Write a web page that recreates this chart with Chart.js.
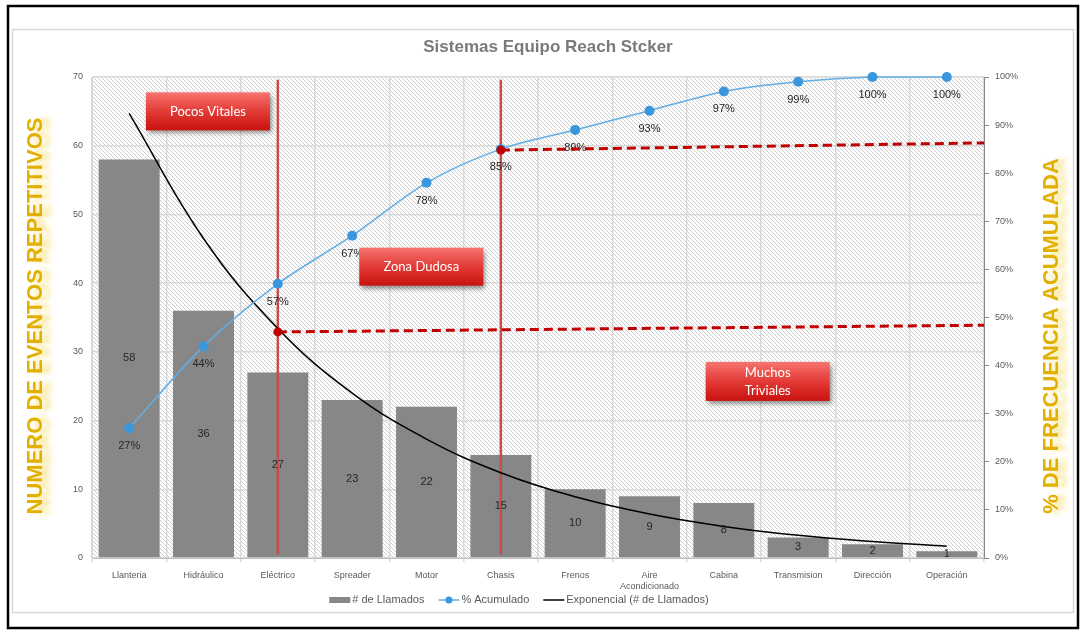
<!DOCTYPE html>
<html lang="es">
<head>
<meta charset="UTF-8">
<title>Sistemas Equipo Reach Stcker</title>
<script src="https://cdn.jsdelivr.net/npm/chart.js"></script>
<style>
    html, body { margin: 0; padding: 0; background: #fff; }
    .chart-container { position: relative; width: 1083px; height: 630px; }
</style>
</head>
<body>
<div class="chart-container">
    <canvas id="paretoChart"></canvas>
</div>
<script>
// datos del pareto
const categorias = ['Llanteria', 'Hidráulico', 'Eléctrico', 'Spreader', 'Motor', 'Chasis', 'Frenos',
    ['Aire', 'Acondicionado'], 'Cabina', 'Transmision', 'Dirección', 'Operación'];
const llamados = [58, 36, 27, 23, 22, 15, 10, 9, 8, 3, 2, 1];
const acumulado = [27, 44, 57, 67, 78, 85, 89, 93, 97, 99, 100, 100];
const tendencia = [64.7, 46.5, 33.4, 24.0, 17.3, 12.4, 8.9, 6.4, 4.6, 3.3, 2.4, 1.7];

// cortes de zona (indice de categoria) y guias horizontales en % acumulado
const cortes = [2, 5];
const guiaInicio = [47, 84.8];
const guiaFin = [48.4, 86.3];

const titulo = 'Sistemas Equipo Reach Stcker';
const tituloIzq = 'NUMERO DE EVENTOS REPETITIVOS';
const tituloDer = '% DE FRECUENCIA ACUMULADA';
const zonas = [['Pocos Vitales'], ['Zona Dudosa'], ['Muchos', 'Triviales']];
const leyenda = ['# de Llamados', '% Acumulado', 'Exponencial (# de Llamados)'];

// ubicacion de los rotulos de zona (indice x, valor eje izq, ancho, alto)
const zonasPos = [
    { x: 1.06, y: 65.0, w: 124, h: 38 },
    { x: 3.93, y: 42.4, w: 124, h: 38 },
    { x: 8.59, y: 25.7, w: 124, h: 39 }
];

const FUENTE = '"Liberation Sans", Arial, sans-serif';

// trama diagonal del fondo
const trama = document.createElement('canvas');
trama.width = 4; trama.height = 4;
(function () {
    const g = trama.getContext('2d');
    g.fillStyle = '#ffffff';
    g.fillRect(0, 0, 4, 4);
    g.fillStyle = '#cecece';
    for (let i = 0; i < 4; i++) g.fillRect(i, i, 1, 1);
})();

function tituloVertical(ctx, texto, x, y) {
    ctx.save();
    ctx.translate(x, y);
    ctx.rotate(-Math.PI / 2);
    ctx.font = 'bold 22px ' + FUENTE;
    ctx.textAlign = 'center';
    ctx.textBaseline = 'middle';
    ctx.shadowColor = 'rgba(245, 210, 60, 0.6)';
    ctx.shadowBlur = 5;
    ctx.shadowOffsetX = 8;
    ctx.shadowOffsetY = 0;
    ctx.fillStyle = '#e2b000';
    ctx.fillText(texto, 0, 0);
    ctx.restore();
}

const fondo = {
    id: 'fondo',
    beforeDraw(chart) {
        const { ctx, chartArea: a } = chart;
        ctx.save();
        ctx.fillStyle = '#ffffff';
        ctx.fillRect(0, 0, chart.width, chart.height);
        ctx.strokeStyle = '#000000';
        ctx.lineWidth = 2.5;
        ctx.strokeRect(8, 6, 1070, 622);
        ctx.strokeStyle = '#d9d9d9';
        ctx.lineWidth = 1.5;
        ctx.strokeRect(12.5, 29.5, 1061, 583);
        ctx.fillStyle = ctx.createPattern(trama, 'repeat');
        ctx.fillRect(a.left, a.top, a.right - a.left, a.bottom - a.top);

        ctx.font = 'bold 17px ' + FUENTE;
        ctx.fillStyle = '#7a7a7a';
        ctx.textAlign = 'center';
        ctx.textBaseline = 'middle';
        ctx.fillText(titulo, 548, 47);
        ctx.restore();

        tituloVertical(ctx, tituloIzq, 36, 316);
        tituloVertical(ctx, tituloDer, 1052, 336);
    }
};

const extras = {
    id: 'extras',
    afterDatasetDraw(chart, args) {
        if (args.index !== 0) return;
        // cortes verticales de zona
        const { ctx } = chart;
        const x = chart.scales.x, y = chart.scales.y;
        ctx.save();
        ctx.strokeStyle = '#c0504d';
        ctx.lineWidth = 2.5;
        cortes.forEach(i => {
            const px = x.getPixelForValue(i);
            ctx.beginPath();
            ctx.moveTo(px, y.getPixelForValue(69.6));
            ctx.lineTo(px, y.getPixelForValue(0.5));
            ctx.stroke();
        });
        ctx.restore();
    },
    afterDatasetsDraw(chart) {
        const { ctx, chartArea: a } = chart;
        const x = chart.scales.x, y1 = chart.scales.y1;
        ctx.save();
        ctx.font = '11px ' + FUENTE;
        ctx.fillStyle = '#262626';
        ctx.textAlign = 'center';
        ctx.textBaseline = 'middle';
        chart.getDatasetMeta(0).data.forEach((bar, i) => {
            ctx.fillText(String(llamados[i]), bar.x, (bar.y + bar.base) / 2);
        });
        chart.getDatasetMeta(2).data.forEach((pt, i) => {
            ctx.fillText(acumulado[i] + '%', pt.x, pt.y + 18);
        });

        // guias horizontales discontinuas
        ctx.strokeStyle = '#c00000';
        ctx.fillStyle = '#c00000';
        ctx.lineWidth = 3;
        cortes.forEach((c, k) => {
            const x0 = x.getPixelForValue(c);
            const yA = y1.getPixelForValue(guiaInicio[k]);
            const yB = y1.getPixelForValue(guiaFin[k]);
            ctx.setLineDash([9, 5]);
            ctx.beginPath();
            ctx.moveTo(x0, yA);
            ctx.lineTo(a.right, yB);
            ctx.stroke();
            ctx.setLineDash([]);
            ctx.beginPath();
            ctx.arc(x0, yA, 4.5, 0, Math.PI * 2);
            ctx.fill();
        });
        ctx.restore();
    },
    afterDraw(chart) {
        const { ctx } = chart;
        const x = chart.scales.x, y = chart.scales.y;
        ctx.save();
        // rotulos de zona
        zonas.forEach((lineas, k) => {
            const p = zonasPos[k];
            const cx = x.getPixelForValue(p.x), cy = y.getPixelForValue(p.y);
            const l = cx - p.w / 2, t = cy - p.h / 2;
            const grad = ctx.createLinearGradient(0, t, 0, t + p.h);
            grad.addColorStop(0, '#f77470');
            grad.addColorStop(0.5, '#e33b36');
            grad.addColorStop(1, '#c8120e');
            ctx.save();
            ctx.shadowColor = 'rgba(0,0,0,0.45)';
            ctx.shadowBlur = 5;
            ctx.shadowOffsetX = 2;
            ctx.shadowOffsetY = 3;
            ctx.fillStyle = grad;
            ctx.fillRect(l, t, p.w, p.h);
            ctx.restore();
            ctx.font = '13px Lato, ' + FUENTE;
            ctx.fillStyle = '#ffffff';
            ctx.textAlign = 'center';
            ctx.textBaseline = 'middle';
            const lh = 18;
            lineas.forEach((txt, j) => {
                ctx.fillText(txt, cx, cy + (j - (lineas.length - 1) / 2) * lh);
            });
        });

        // leyenda
        ctx.font = '11px ' + FUENTE;
        ctx.textBaseline = 'middle';
        ctx.textAlign = 'left';
        const sw = 21, gapTxt = 2, gapItem = 14, ly = 600;
        const anchos = leyenda.map(t => ctx.measureText(t).width);
        const total = anchos.reduce((s, w) => s + sw + gapTxt + w, 0) + gapItem * (leyenda.length - 1);
        let lx = 519 - total / 2;
        leyenda.forEach((txt, k) => {
            if (k === 0) {
                ctx.fillStyle = '#878787';
                ctx.fillRect(lx, ly - 3, sw, 6);
            } else if (k === 1) {
                ctx.strokeStyle = '#62aee5';
                ctx.lineWidth = 1.5;
                ctx.beginPath(); ctx.moveTo(lx, ly); ctx.lineTo(lx + sw, ly); ctx.stroke();
                ctx.fillStyle = '#3a97de';
                ctx.beginPath(); ctx.arc(lx + sw / 2, ly, 3.5, 0, Math.PI * 2); ctx.fill();
            } else {
                ctx.strokeStyle = '#000000';
                ctx.lineWidth = 1.5;
                ctx.beginPath(); ctx.moveTo(lx, ly); ctx.lineTo(lx + sw, ly); ctx.stroke();
            }
            lx += sw + gapTxt;
            ctx.fillStyle = '#595959';
            ctx.fillText(txt, lx, ly);
            lx += anchos[k] + gapItem;
        });
        ctx.restore();
    }
};

const ctx = document.getElementById('paretoChart').getContext('2d');
new Chart(ctx, {
    type: 'bar',
    data: {
        labels: categorias,
        datasets: [
            {
                label: leyenda[0],
                data: llamados,
                backgroundColor: '#878787',
                barPercentage: 0.82,
                categoryPercentage: 1,
                yAxisID: 'y',
                order: 3
            },
            {
                label: leyenda[2],
                type: 'line',
                data: tendencia,
                borderColor: '#000000',
                borderWidth: 1.5,
                pointRadius: 0,
                tension: 0.4,
                fill: false,
                yAxisID: 'y',
                order: 2
            },
            {
                label: leyenda[1],
                type: 'line',
                data: acumulado,
                borderColor: '#62aee5',
                borderWidth: 1.5,
                pointRadius: 5,
                pointBackgroundColor: '#3a97de',
                pointBorderWidth: 0,
                tension: 0.3,
                fill: false,
                clip: false,
                yAxisID: 'y1',
                order: 1
            }
        ]
    },
    options: {
        responsive: true,
        maintainAspectRatio: false,
        animation: false,
        layout: { padding: { top: 77, left: 0, right: 0, bottom: 0 } },
        plugins: {
            legend: { display: false },
            title: { display: false },
            tooltip: { enabled: false }
        },
        scales: {
            x: {
                offset: true,
                grid: { color: '#d9d9d9', lineWidth: 1.5, offset: true, tickLength: 4 },
                border: { color: '#bfbfbf' },
                ticks: { color: '#595959', font: { family: FUENTE, size: 9 }, padding: 8, maxRotation: 0, autoSkip: false },
                afterFit(scale) { scale.height = 72; }
            },
            y: {
                position: 'left',
                min: 0,
                max: 70,
                ticks: { stepSize: 10, color: '#595959', font: { family: FUENTE, size: 9 }, padding: 9 },
                grid: { color: '#d9d9d9', lineWidth: 1.5, drawTicks: false },
                border: { color: '#d9d9d9' },
                afterFit(scale) { scale.width = 92; }
            },
            y1: {
                position: 'right',
                min: 0,
                max: 100,
                ticks: {
                    stepSize: 10,
                    color: '#595959',
                    font: { family: FUENTE, size: 9 },
                    padding: 6,
                    callback: v => v + '%'
                },
                grid: { drawOnChartArea: false, color: '#888888', tickLength: 5 },
                border: { color: '#888888' },
                afterFit(scale) { scale.width = 99; }
            }
        }
    },
    plugins: [fondo, extras]
});
</script>
</body>
</html>
